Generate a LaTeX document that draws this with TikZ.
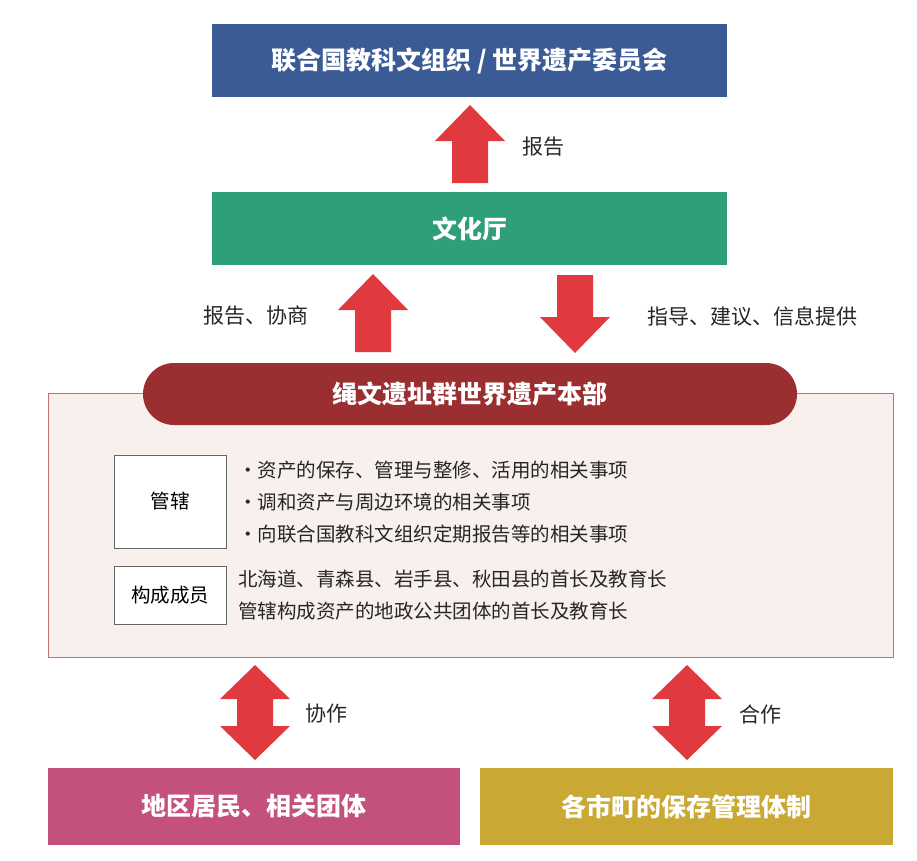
\documentclass[tikz,border=0pt]{standalone}
\usepackage{fontspec}
\setmainfont{Noto Sans CJK SC}
\definecolor{cblue}{HTML}{3B5B97}
\definecolor{cgreen}{HTML}{2E9E7B}
\definecolor{cdark}{HTML}{9A2E31}
\definecolor{cpink}{HTML}{C4507C}
\definecolor{cgold}{HTML}{C9A833}
\definecolor{cred}{HTML}{E0393E}
\definecolor{cpanel}{HTML}{F8F0EC}
\definecolor{cborder}{HTML}{C8716C}
\tikzset{
  hbox/.style={inner sep=0pt, text=white, font=\bfseries\fontsize{25}{28}\selectfont},
  lbl/.style={font=\fontsize{21}{24}\selectfont, text=black!85},
  item/.style={font=\fontsize{19.5}{24}\selectfont, text=black!85, anchor=west, inner sep=0pt},
  sbox/.style={draw=black!60, line width=0.6pt, fill=white, font=\fontsize{19.5}{24}\selectfont},
  pics/uparr/.style={code={\fill[cred] (-18,0) -- (-18,-42) -- (-35,-42) -- (0,-78) -- (35,-42) -- (18,-42) -- (18,0) -- cycle;}},
  pics/dnarr/.style={code={\fill[cred] (-18,0) -- (-18,42) -- (-35,42) -- (0,78) -- (35,42) -- (18,42) -- (18,0) -- cycle;}},
  pics/dbarr/.style={code={\fill[cred] (0,0) -- (-35,34) -- (-18,34) -- (-18,61) -- (-35,61) -- (0,95) -- (35,61) -- (18,61) -- (18,34) -- (35,34) -- cycle;}}
}
\begin{document}
\begin{tikzpicture}[x=1pt,y=-1pt]
\useasboundingbox (0,0) rectangle (917,860);
% top boxes
\fill[cblue] (212,24) rectangle (727,97);
\node[hbox] (unesco) at (469.5,60.5) {联合国教科文组织 / 世界遗产委员会};
\fill[cgreen] (212,192) rectangle (727,265);
\node[hbox] (bunka) at (469.5,228.5) {文化厅};
% arrows
\pic at (470,183) {uparr};
\node[lbl] (l1) at (543,147) {报告};
\pic at (373,352) {uparr};
\node[lbl] (l2) at (256,316) {报告、协商};
\pic at (575,275) {dnarr};
\node[lbl] (l3) at (752,316) {指导、建议、信息提供};
% panel
\fill[cpanel, draw=cborder, line width=1pt] (48,393) rectangle (893,657);
\fill[cdark, rounded corners=31pt] (143,363) rectangle (797,425);
\node[hbox] (hq) at (470,394) {绳文遗址群世界遗产本部};
\node[sbox, minimum width=112pt, minimum height=93pt] (kan) at (170,501.5) {管辖};
\node[item] (i1) at (238,470) {·资产的保存、管理与整修、活用的相关事项};
\node[item] (i2) at (238,502) {·调和资产与周边环境的相关事项};
\node[item] (i3) at (238,534) {·向联合国教科文组织定期报告等的相关事项};
\node[sbox, minimum width=112pt, minimum height=58pt] (mem) at (170,595) {构成成员};
\node[item] (m1) at (238,579) {北海道、青森县、岩手县、秋田县的首长及教育长};
\node[item] (m2) at (238,611) {管辖构成资产的地政公共团体的首长及教育长};
% double arrows
\pic at (255,665) {dbarr};
\node[lbl] (l4) at (326,714) {协作};
\pic at (687,665) {dbarr};
\node[lbl] (l5) at (760,714) {合作};
% bottom boxes
\fill[cpink] (48,768) rectangle (460,845);
\node[hbox] (res) at (254,806.5) {地区居民、相关团体};
\fill[cgold] (480,768) rectangle (893,845);
\node[hbox] (city) at (686.5,806.5) {各市町的保存管理体制};
\end{tikzpicture}
\end{document}
